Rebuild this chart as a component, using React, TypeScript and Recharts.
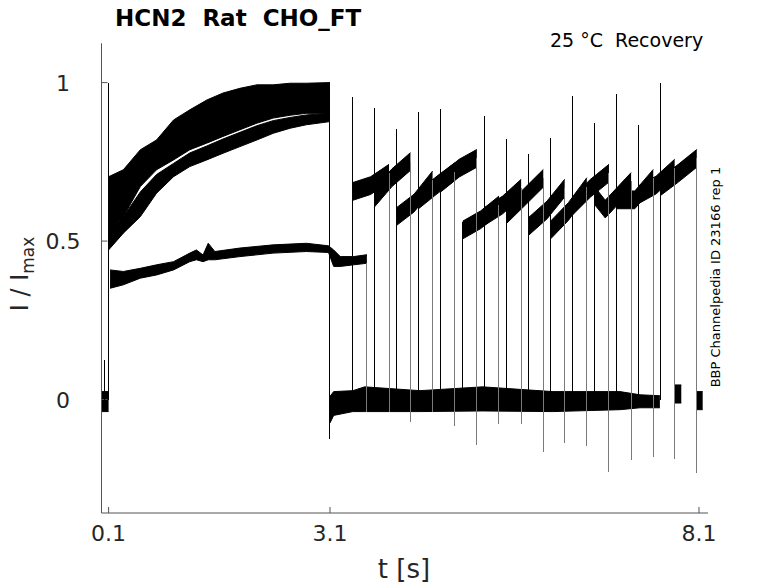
import React from "react";
import { ComposedChart, Area, Line, XAxis, YAxis, ReferenceLine } from "recharts";

const xTicks = [0.1, 3.1, 8.1];
const yTicks = [0, 0.5, 1];

// activation step (0.1 - 3.1 s), upper noisy band and the lower pair of sweeps
const stepT = [0.1, 0.3, 0.53, 0.75, 0.98, 1.2, 1.43, 1.65, 1.88, 2.11, 2.33, 2.56, 2.78, 3.1];
const stepTopHi = [0.703, 0.725, 0.788, 0.819, 0.882, 0.914, 0.945, 0.967, 0.982, 0.993, 0.993, 0.998, 0.998, 1.0];
const stepTopLo = [0.535, 0.577, 0.672, 0.725, 0.756, 0.788, 0.809, 0.83, 0.851, 0.872, 0.888, 0.897, 0.903, 0.903];
const stepLowHi = [0.535, 0.577, 0.655, 0.71, 0.745, 0.778, 0.8, 0.822, 0.843, 0.864, 0.88, 0.89, 0.898, 0.903];
const stepLowLo = [0.472, 0.525, 0.577, 0.651, 0.703, 0.735, 0.756, 0.777, 0.798, 0.819, 0.84, 0.856, 0.867, 0.877];

// the one smaller sweep (~0.4), incl. its 0.5 s test right after 3.1 s
const smallT = [0.12, 0.3, 0.53, 0.75, 0.98, 1.2, 1.29, 1.38, 1.45, 1.54, 1.88, 2.33, 2.78, 3.08, 3.15, 3.24, 3.42, 3.6];
const smallHi = [0.409, 0.404, 0.414, 0.425, 0.435, 0.462, 0.472, 0.456, 0.493, 0.467, 0.478, 0.488, 0.493, 0.485, 0.472, 0.451, 0.451, 0.457];
const smallLo = [0.351, 0.362, 0.383, 0.393, 0.409, 0.435, 0.441, 0.435, 0.441, 0.441, 0.451, 0.462, 0.467, 0.464, 0.42, 0.42, 0.425, 0.43];

// holding current around zero
const preT = [0.004, 0.1];
const preHi = [0.025, 0.025];
const preLo = [-0.038, -0.038];
const holdT = [3.1, 3.15, 3.41, 3.57, 4.32, 5.17, 6.12, 7.03, 7.3, 7.57];
const holdHi = [0.01, 0.025, 0.028, 0.04, 0.028, 0.04, 0.025, 0.025, 0.015, 0.012];
const holdLo = [-0.074, -0.05, -0.038, -0.038, -0.038, -0.036, -0.038, -0.032, -0.026, -0.026];
const tailAT = [7.77, 7.86];
const tailAHi = [0.046, 0.046];
const tailALo = [-0.011, -0.011];
const tailBT = [8.07, 8.15];
const tailBHi = [0.025, 0.025];
const tailBLo = [-0.032, -0.032];

// recovery test pulses
const pulseOn = [3.4, 3.7, 4.0, 4.3, 4.6, 4.9, 5.19, 5.49, 5.79, 6.09, 6.38, 6.68, 6.98, 7.28, 7.58];
const pulseMidT = [3.65, 3.94, 4.24, 4.55, 4.85, 5.14, 5.44, 5.74, 6.04, 6.33, 6.63, 6.83, 7.23, 7.52, 7.82];
const pulseOff = [3.9, 4.19, 4.49, 4.79, 5.09, 5.39, 5.69, 5.99, 6.28, 6.58, 6.88, 7.18, 7.48, 7.77, 8.07];
const pulseStart = [0.656, 0.635, 0.577, 0.63, 0.683, 0.535, 0.577, 0.583, 0.546, 0.535, 0.609, 0.645, 0.63, 0.646, 0.672];
const pulseMid = [0.675, 0.7, 0.62, 0.677, 0.73, 0.567, 0.614, 0.64, 0.598, 0.593, 0.667, 0.601, 0.63, 0.677, 0.714];
const pulseEnd = [0.714, 0.751, 0.693, 0.719, 0.761, 0.614, 0.667, 0.698, 0.667, 0.672, 0.714, 0.688, 0.698, 0.73, 0.761];
const pulsePeak = [0.956, 0.921, 0.853, 0.907, 0.916, 0.56, 0.895, 0.822, 0.775, 0.825, 0.958, 0.874, 0.964, 0.867, 1.0];
const pulseUnder = [-0.04, -0.07, -0.04, -0.083, -0.143, -0.077, -0.077, -0.164, -0.136, -0.148, -0.229, -0.19, -0.182, -0.188, -0.232];
const pulseNoise = 0.028;

// other transients
const stepSpikeT = [0.04, 0.1, 3.1];
const stepSpikeFrom = [0, 0, 1.0];
const stepSpikeTo = [0.125, 1.0, -0.125];
const firstOffT = 3.6;
const firstOffFrom = 0.43;
const firstOffTo = -0.04;

const X_DOMAIN = [0.004, 8.222];
const Y_DOMAIN = [-0.358, 1.124];
const FONT = "DejaVu Sans";

const band = (ts: number[], lo: number[], hi: number[]) =>
  ts.map((t, i) => ({ t, r: [lo[i], hi[i]] }));

const pulseBands = pulseOn.map((t0, k) => [
  { t: t0, r: [pulseStart[k] - pulseNoise, pulseStart[k] + pulseNoise] },
  { t: pulseMidT[k], r: [pulseMid[k] - pulseNoise, pulseMid[k] + pulseNoise] },
  { t: pulseOff[k], r: [pulseEnd[k] - pulseNoise, pulseEnd[k] + pulseNoise] },
]);

const spikes = (ts: number[], from: number[], to: number[]) =>
  ts.flatMap((t, i) => [
    { t, v: from[i] },
    { t, v: to[i] },
    { t, v: null },
  ]);

const onSpikes = [
  ...spikes(stepSpikeT, stepSpikeFrom, stepSpikeTo),
  ...spikes(pulseOn, pulseOn.map(() => 0), pulsePeak),
];
const offSpikes = [
  ...spikes([firstOffT], [firstOffFrom], [firstOffTo]),
  ...spikes(pulseOff, pulseEnd, pulseUnder),
];

const bands = [
  band(preT, preLo, preHi),
  band(stepT, stepLowLo, stepLowHi),
  band(stepT, stepTopLo, stepTopHi),
  band(smallT, smallLo, smallHi),
  band(holdT, holdLo, holdHi),
  band(tailAT, tailALo, tailAHi),
  band(tailBT, tailBLo, tailBHi),
  ...pulseBands,
];

const XTick = ({ x, payload }: any) => (
  <text x={x} y={532.5} textAnchor="middle" fontSize={22} fontFamily={FONT} fill="#262626">
    {payload.value}
  </text>
);

const YTick = ({ y, payload }: any) => (
  <text x={55} y={y + 8} textAnchor="middle" fontSize={22} fontFamily={FONT} fill="#262626">
    {payload.value}
  </text>
);

export default function App() {
  const xTickLen = 0.019;
  const yTickLen = 0.081;
  return (
    <div style={{ position: "relative", width: 770, height: 575 }}>
      <ComposedChart
        width={770}
        height={575}
        margin={{ top: 35.3, right: 70, bottom: 40, left: 33.5 }}
      >
        <XAxis
          type="number"
          dataKey="t"
          domain={X_DOMAIN}
          ticks={xTicks}
          allowDataOverflow
          tick={<XTick />}
          tickLine={false}
          axisLine={{ stroke: "#555" }}
          height={30}
        />
        <YAxis
          type="number"
          domain={Y_DOMAIN}
          ticks={yTicks}
          allowDataOverflow
          tick={<YTick />}
          tickLine={false}
          axisLine={{ stroke: "#555" }}
          width={60}
        />
        {xTicks.map((t) => (
          <ReferenceLine
            key={"xt" + t}
            segment={[
              { x: t, y: Y_DOMAIN[0] },
              { x: t, y: Y_DOMAIN[0] + xTickLen },
            ]}
            stroke="#555"
          />
        ))}
        {yTicks.map((v) => (
          <ReferenceLine
            key={"yt" + v}
            segment={[
              { x: X_DOMAIN[0], y: v },
              { x: X_DOMAIN[0] + yTickLen, y: v },
            ]}
            stroke="#555"
          />
        ))}
        <Line
          data={offSpikes}
          dataKey="v"
          type="linear"
          stroke="#7a7a7a"
          strokeWidth={1}
          dot={false}
          activeDot={false}
          connectNulls={false}
          shapeRendering="crispEdges"
          isAnimationActive={false}
        />
        {bands.map((d, i) => (
          <Area
            key={"b" + i}
            data={d}
            dataKey="r"
            type="linear"
            stroke="#000"
            strokeWidth={1}
            fill="#000"
            fillOpacity={1}
            dot={false}
            activeDot={false}
            isAnimationActive={false}
          />
        ))}
        <Line
          data={onSpikes}
          dataKey="v"
          type="linear"
          stroke="#000"
          strokeWidth={1}
          dot={false}
          activeDot={false}
          connectNulls={false}
          shapeRendering="crispEdges"
          isAnimationActive={false}
        />
      </ComposedChart>
      <svg
        width={770}
        height={575}
        style={{ position: "absolute", left: 0, top: 0, pointerEvents: "none", overflow: "visible" }}
        fontFamily={FONT}
      >
        <text x={107} y={18} fontSize={23} fontWeight="bold" fill="#000" style={{ whiteSpace: "pre" }}>
          {"HCN2  Rat  CHO_FT"}
        </text>
        <text x={542} y={39.3} fontSize={19} fill="#000" style={{ whiteSpace: "pre" }}>
          {"25 °C  Recovery"}
        </text>
        <text x={396} y={570} fontSize={26} textAnchor="middle" fill="#262626">
          t [s]
        </text>
        <text
          x={19.5}
          y={266}
          fontSize={24}
          textAnchor="middle"
          fill="#262626"
          transform="rotate(-90 19.5 266)"
          style={{ whiteSpace: "pre" }}
        >
          {"I / I"}
          <tspan fontSize={17} dy={6}>
            max
          </tspan>
        </text>
        <text
          x={707}
          y={269}
          fontSize={13}
          textAnchor="middle"
          dominantBaseline="central"
          fill="#000"
          transform="rotate(-90 707 269)"
        >
          BBP Channelpedia ID 23166 rep 1
        </text>
      </svg>
    </div>
  );
}
